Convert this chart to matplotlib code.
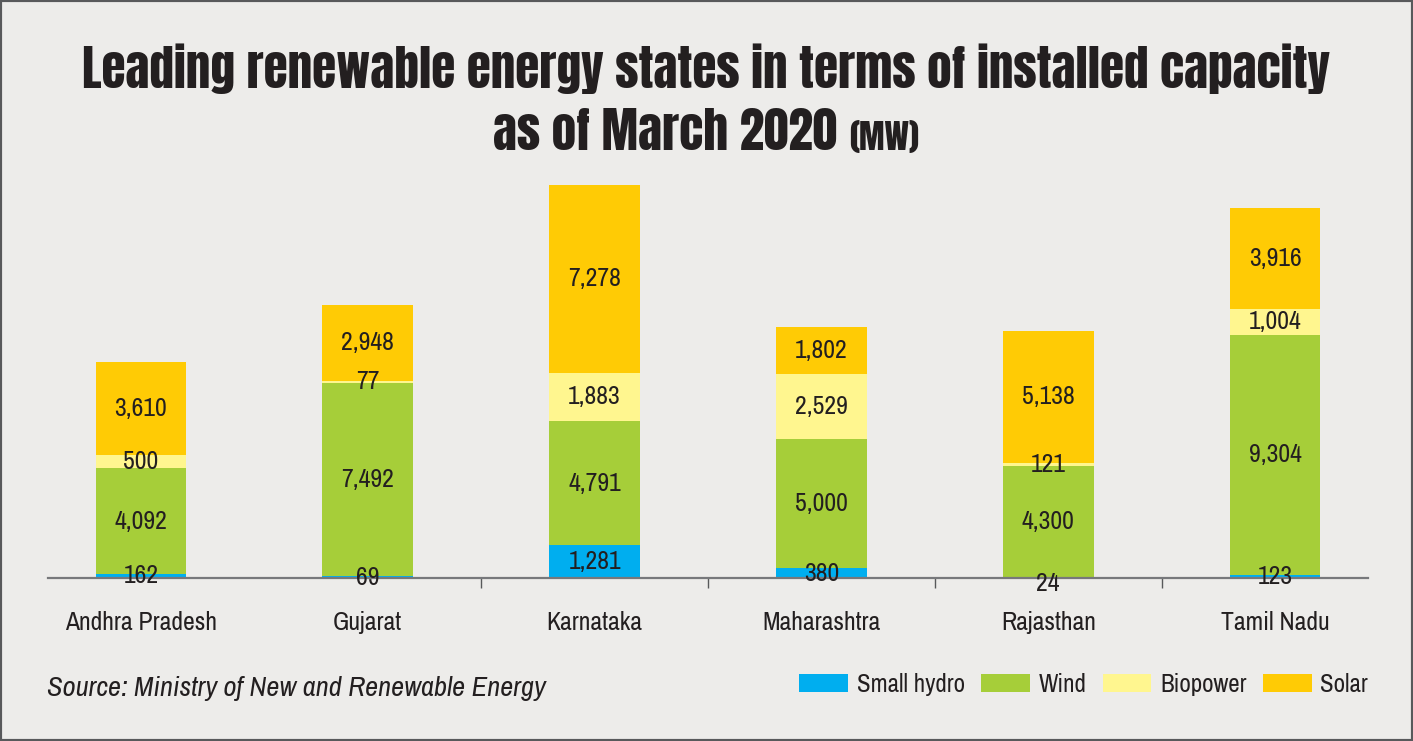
import matplotlib

matplotlib.use("Agg")
import matplotlib.pyplot as plt
from matplotlib.patches import Rectangle
import numpy as np

states = ["Andhra Pradesh", "Gujarat", "Karnataka", "Maharashtra", "Rajasthan", "Tamil Nadu"]
small_hydro = [162, 69, 1281, 380, 24, 123]
wind = [4092, 7492, 4791, 5000, 4300, 9304]
biopower = [500, 77, 1883, 2529, 121, 1004]
solar = [3610, 2948, 7278, 1802, 5138, 3916]

series = [
    ("Small hydro", small_hydro, "#00aeef"),
    ("Wind", wind, "#a6ce39"),
    ("Biopower", biopower, "#fff68f"),
    ("Solar", solar, "#ffcb05"),
]

BG = "#edecea"
TEXT = "#231f20"
BODY = ["Archivo Narrow", "Roboto Condensed", "DejaVu Sans"]
HEAD = ["Anton", "Oswald", "DejaVu Sans"]

plt.rcParams["font.family"] = BODY

W, H = 1413, 741
fig = plt.figure(figsize=(W / 100, H / 100), dpi=100, facecolor=BG)
ax = fig.add_axes([48 / W, 1 - 578 / H, 1320 / W, 413 / H])
ax.set_facecolor(BG)

x = np.arange(len(states))
bottom = np.zeros(len(states))
for name, vals, color in series:
    vals = np.array(vals, dtype=float)
    ax.bar(x, vals, width=0.4, bottom=bottom, color=color, label=name, zorder=2)
    for xi, b, v in zip(x, bottom, vals):
        # the tiniest segment's label sits just under the baseline
        dy = -6 if v < 50 and name == "Small hydro" else 0
        ax.annotate(f"{int(v):,}", (xi, b + v / 2), xytext=(0, dy), textcoords="offset pixels",
                    ha="center", va="center", fontsize=18.5, color=TEXT, zorder=5)
    bottom += vals

ax.set_xlim(-0.41, 5.41)
ax.set_ylim(0, 16000)
for side in ["top", "right", "left"]:
    ax.spines[side].set_visible(False)
ax.spines["bottom"].set_color("#77787b")
ax.spines["bottom"].set_linewidth(1.6)
ax.spines["bottom"].set_zorder(4)
ax.set_yticks([])
ax.set_xticks(x)
ax.set_xticklabels(states, fontsize=18.5, color=TEXT)
ax.tick_params(axis="x", which="major", length=0, pad=24)
ax.set_xticks([1.5, 2.5, 3.5, 4.5], minor=True)
ax.tick_params(axis="x", which="minor", length=7, width=1, color="#58595b")

fig.canvas.draw()
r = fig.canvas.get_renderer()

# title: fit the first line to the reference width, second line shares its size
t1 = fig.text(0.5, 1 - 88 / H, "Leading renewable energy states in terms of installed capacity",
              ha="center", va="baseline", fontsize=40, family=HEAD, color=TEXT)
size = 40 * 1247 / t1.get_window_extent(r).width
t1.set_fontsize(size)
t_main = fig.text(0.5, 1 - 150 / H, "as of March 2020", ha="left", va="baseline",
                  fontsize=size, family=HEAD, color=TEXT)
t_unit = fig.text(0.5, 1 - 150 / H, "(MW)", ha="left", va="baseline",
                  fontsize=size * 0.7, family=HEAD, color=TEXT)
gap = 12 / W
w_main = t_main.get_window_extent(r).width / W
w_unit = t_unit.get_window_extent(r).width / W
start = 0.5 - (w_main + gap + w_unit) / 2
t_main.set_x(start)
t_unit.set_x(start + w_main + gap)

fig.text(47 / W, 1 - 696 / H, "Source: Ministry of New and Renewable Energy",
         ha="left", va="baseline", fontsize=20.5, style="italic", color=TEXT)

fig.legend(loc="center right", bbox_to_anchor=(1368 / W, 1 - 684 / H), ncol=4,
           frameon=False, fontsize=18, handlelength=1.95, handleheight=0.75,
           handletextpad=0.35, columnspacing=0.65, borderpad=0, borderaxespad=0,
           labelcolor=TEXT)

fig.add_artist(Rectangle((0, 0), 1, 1, transform=fig.transFigure, fill=False,
                         edgecolor="#58595b", linewidth=3, zorder=10))

fig.savefig("out.png", dpi=100, facecolor=BG)
